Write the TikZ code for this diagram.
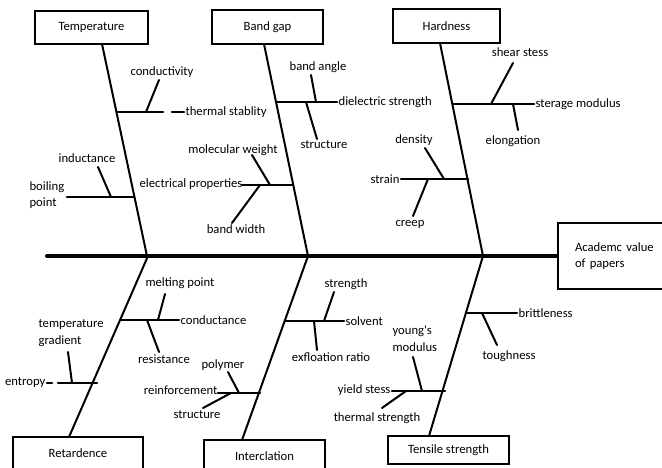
\documentclass[tikz,border=0pt]{standalone}
\usepackage{fontspec}
\setmainfont{Carlito}
\usepackage{tkz-euclide}
\usepackage{tikz}

\begin{document}
\begin{tikzpicture}[x=0.75pt, y=-0.75pt,
    every node/.style={font=\fontsize{9.5}{12.5}\selectfont, inner sep=1pt},
    box/.style={draw, line width=1.5pt, inner sep=0pt},
    spine/.style={line width=3pt},
    bone/.style={line width=1.5pt},
    rib/.style={line width=2pt},
    twig/.style={line width=1.5pt}]
    \useasboundingbox (0,0) rectangle (662,468);
    % spine
    \tkzDefPoints{47/256/S1,557/256/S2}
    \tkzDrawSegments[spine](S1,S2)
    \node[box, anchor=west, text width=72pt, inner xsep=12.75pt, minimum height=49.5pt, align=left] (Y) at (S2) {Academc value\\of papers};
    % causes
    \node[box, minimum width=84.75pt, minimum height=24.75pt] (T) at (91.5,27.5) {Temperature};
    \node[box, minimum width=83.25pt, minimum height=25.5pt] (B) at (267.5,27) {Band gap};
    \node[box, minimum width=80.25pt, minimum height=25.5pt] (H) at (446.5,26) {Hardness};
    \node[box, minimum width=97.5pt, minimum height=24.75pt] (R) at (78,453.5) {Retardence};
    \node[box, minimum width=90.75pt, minimum height=24pt] (I) at (264.5,456) {Interclation};
    \node[box, minimum width=90.75pt, minimum height=21pt] (K) at (448.5,450) {Tensile strength};
    \tkzDefPoints{102/44/Ta,147/256/Tb,264/44/Ba,308/256/Bb,440/43/Ha,483/256/Hb}
    \tkzDefPoints{148/256/Ra,69/437/Rb,308/256/Ia,242/440/Ib,483/256/Ka,429/436/Kb}
    \tkzDrawSegments[bone](Ta,Tb Ba,Bb Ha,Hb Ra,Rb Ia,Ib Ka,Kb)

    % Temperature
    \tkzDefPoints{117/112/C1,163/112/Cg,172/112/Ch,184/112/C2,146/112/C3,159/80/C4}
    \tkzDefPoints{67/197/C5,134/197/C6,111/197/C7,98/167/C8}
    \tkzDrawSegments[rib](C1,Cg Ch,C2 C5,C6)
    \tkzDrawSegments[twig](C3,C4 C7,C8)
    \node (c1) at (162,72) {conductivity};
    \node[anchor=west] (c2) at (C2) {thermal stablity};
    \node (c3) at (87,158) {inductance};
    \node[anchor=west, align=left] (c4) at (28,195) {boiling\\point};

    % Band gap
    \tkzDefPoints{277/102/D1,337/102/D2,316/102/D3,311/75/D4,306/102/D5,317/139/D6}
    \tkzDefPoints{242/185/D7,293/185/D8,270/185/D9,252/155/D10,260/185/D11,232/223/D12}
    \tkzDrawSegments[rib](D1,D2 D7,D8)
    \tkzDrawSegments[twig](D3,D4 D5,D6 D9,D10 D11,D12)
    \node (d1) at (318,67) {band angle};
    \node[anchor=west] (d2) at (D2) {dielectric strength};
    \node (d3) at (324,145) {structure};
    \node (d4) at (233,150) {molecular weight};
    \node[anchor=east] (d5) at (244,184) {electrical properties};
    \node (d6) at (236,229) {band width};

    % Hardness
    \tkzDefPoints{453/104/E1,534/104/E2,491/104/E3,513/63/E4,513/104/E5,518/130/E6}
    \tkzDefPoints{401/179/E7,468/179/E8,444/179/E9,425/148/E10,428/179/E11,413/216/E12}
    \tkzDrawSegments[rib](E1,E2 E7,E8)
    \tkzDrawSegments[twig](E3,E4 E5,E6 E9,E10 E11,E12)
    \node (e1) at (520,52) {shear stess};
    \node[anchor=west] (e2) at (E2) {sterage modulus};
    \node (e3) at (513,141) {elongation};
    \node (e4) at (414,140) {density};
    \node[anchor=east] (e5) at (E7) {strain};
    \node (e6) at (410,224) {creep};

    % Retardence
    \tkzDefPoints{121/320/F1,179/320/F2,158/320/F3,165/294/F4,147/320/F5,159/352/F6}
    \tkzDefPoints{47/383/F0,52/383/Fg,58/383/F7,97/383/F8,72/383/F9,68/352/F10}
    \tkzDrawSegments[rib](F1,F2 F0,Fg F7,F8)
    \tkzDrawSegments[twig](F3,F4 F5,F6 F9,F10)
    \node (f1) at (180,283) {melting point};
    \node[anchor=west] (f2) at (F2) {conductance};
    \node (f3) at (164,359) {resistance};
    \node[anchor=west, align=left] (f4) at (37,333) {temperature\\gradient};
    \node[anchor=east] (f5) at (F0) {entropy};

    % Interclation
    \tkzDefPoints{285/321/G1,344/321/G2,324/321/G3,334/292/G4,314/321/G5,317/350/G6}
    \tkzDefPoints{218/393/G7,260/393/G8,239/393/G9,228/372/G10,231/393/G11,203/408/G12}
    \tkzDrawSegments[rib](G1,G2 G7,G8)
    \tkzDrawSegments[twig](G3,G4 G5,G6 G9,G10 G11,G12)
    \node (g1) at (346,284) {strength};
    \node[anchor=west] (g2) at (G2) {solvent};
    \node (g3) at (331,357) {exfloation ratio};
    \node (g4) at (223,365) {polymer};
    \node[anchor=east] (g5) at (219,390) {reinforcement};
    \node (g6) at (197,415) {structure};

    % Tensile strength
    \tkzDefPoints{466/313/K1,517/313/K2,482/313/K3,497/345/K4}
    \tkzDefPoints{392/391/K5,445/391/K6,422/391/K7,413/357/K8,406/391/K9,382/408/K10}
    \tkzDrawSegments[rib](K1,K2 K5,K6)
    \tkzDrawSegments[twig](K3,K4 K7,K8 K9,K10)
    \node[anchor=west] (k1) at (K2) {brittleness};
    \node (k2) at (509,356) {toughness};
    \node[anchor=west, align=left] (k3) at (391,339) {young\textquotesingle s\\modulus};
    \node[anchor=east] (k4) at (392,390) {yield stess};
    \node (k5) at (377,418) {thermal strength};
\end{tikzpicture}
\end{document}
